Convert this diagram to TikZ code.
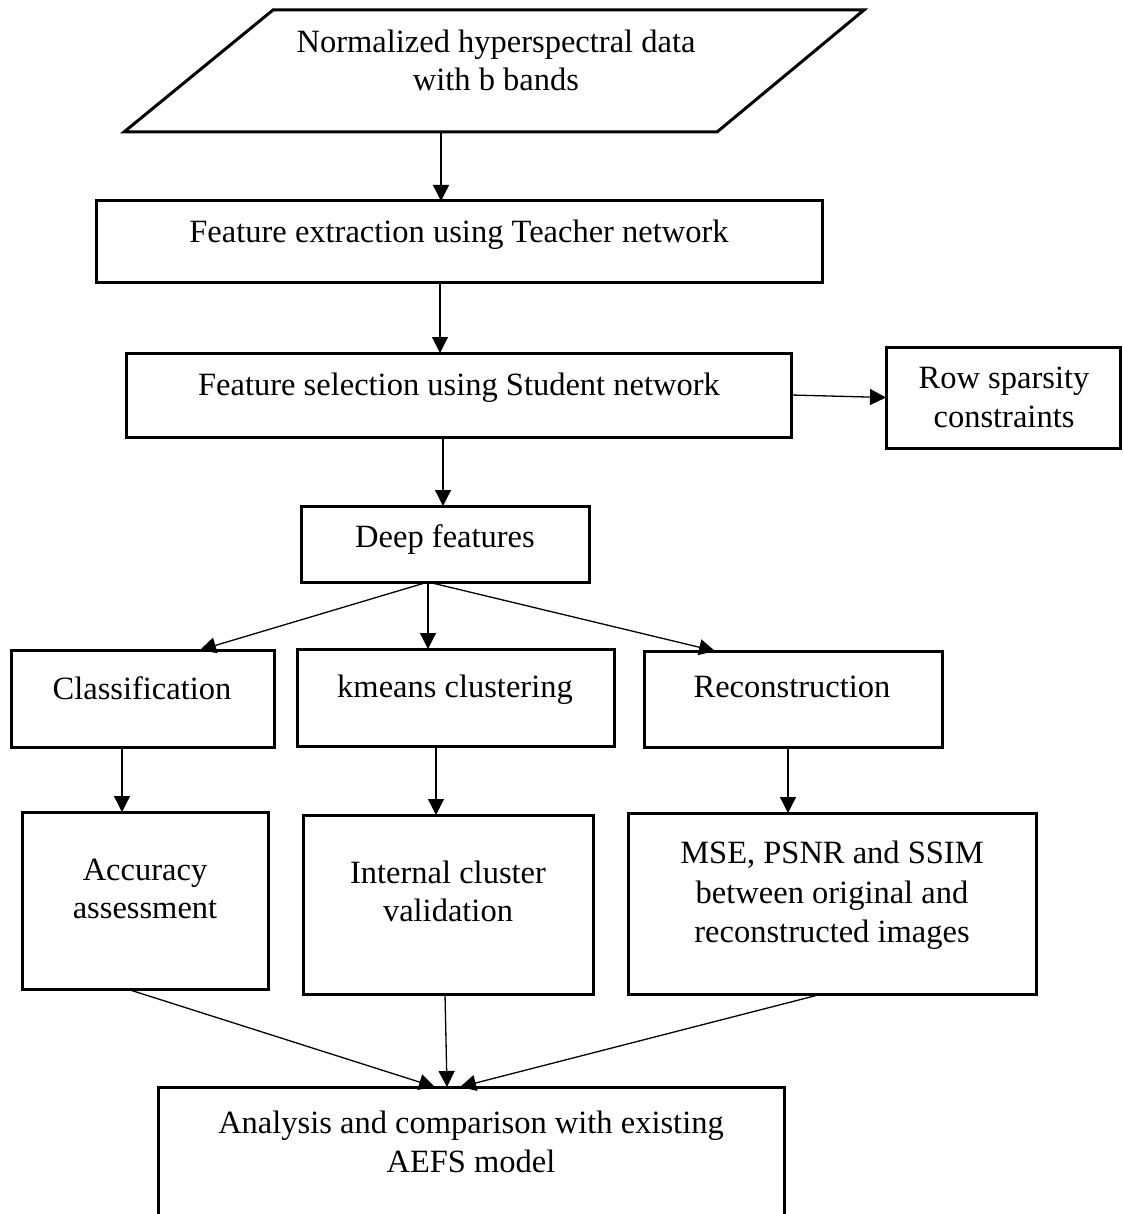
\documentclass[tikz,border=0pt]{standalone}
\usepackage{fontspec}
\setmainfont{Liberation Serif}
\usetikzlibrary{arrows.meta}
\begin{document}
\begin{tikzpicture}[x=1pt,y=-1pt,
  box/.style={draw,line width=3pt,inner sep=0pt,outer sep=0pt},
  txt/.style={anchor=base,inner sep=0pt,font=\fontsize{32.5}{39}\selectfont},
  arr/.style={line width=1.3pt,-{Triangle[length=16pt,width=16pt]}}]
\useasboundingbox (0,0) rectangle (1122,1214);

% input data (parallelogram)
\draw[line width=3pt,line join=miter] (273,10) -- (864,10) -- (717,132) -- (124,132) -- cycle;
\coordinate (parout) at (441,132);
\node[txt] (par1) at (496,53) {Normalized hyperspectral data};
\node[txt] (par2) at (496,91) {with b bands};

% process boxes
\node[box,minimum width=726pt,minimum height=82pt] (b1) at (459,242) {};
\node[txt] (b1t) at (459,243) {Feature extraction using Teacher network};

\node[box,minimum width=665pt,minimum height=84pt] (b2) at (458.5,395) {};
\node[txt] (b2t) at (459,395) {Feature selection using Student network};

\node[box,minimum width=234pt,minimum height=101pt] (rs) at (1003,397.5) {};
\node[txt] (rs1) at (1004,388) {Row sparsity};
\node[txt] (rs2) at (1004,427) {constraints};

\node[box,minimum width=288pt,minimum height=76pt] (deep) at (445,544) {};
\node[txt] (deept) at (445,547) {Deep features};

\node[box,minimum width=263pt,minimum height=97pt] (cls) at (142.5,698.5) {};
\node[txt] (clst) at (142,699) {Classification};

\node[box,minimum width=317pt,minimum height=97pt] (km) at (455.5,697.5) {};
\node[txt] (kmt) at (455,697) {kmeans clustering};

\node[box,minimum width=298pt,minimum height=96pt] (rec) at (793,699) {};
\node[txt] (rect) at (792,697) {Reconstruction};

\node[box,minimum width=246pt,minimum height=177pt] (acc) at (145,900.5) {};
\node[txt] (acc1) at (145,880) {Accuracy};
\node[txt] (acc2) at (145,918) {assessment};

\node[box,minimum width=290pt,minimum height=179pt] (int) at (448,904.5) {};
\node[txt] (int1) at (448,883) {Internal cluster};
\node[txt] (int2) at (448,921) {validation};

\node[box,minimum width=408pt,minimum height=181pt] (mse) at (832,903.5) {};
\node[txt] (mse1) at (832,863) {MSE, PSNR and SSIM};
\node[txt] (mse2) at (832,903) {between original and};
\node[txt] (mse3) at (832,942) {reconstructed images};

\node[box,minimum width=626pt,minimum height=150pt] (bot) at (471,1162) {};
\node[txt] (bot1) at (471,1133) {Analysis and comparison with existing};
\node[txt] (bot2) at (471,1172) {AEFS model};

% connectors
\draw[arr] (parout) -- (parout |- b1.north);
\draw[arr] ([xshift=-19pt]b1.south) -- ([xshift=-18.5pt]b2.north);
\draw[arr] (b2.east) -- (rs.west);
\draw[arr] ([xshift=-15.5pt]b2.south) -- ([xshift=-2pt]deep.north);
\coordinate (fan) at ([xshift=-17pt]deep.south);
\draw[arr] (fan) -- ([xshift=57.5pt]cls.north);
\draw[arr] (fan) -- ([xshift=-27.5pt]km.north);
\draw[arr] (fan) -- ([xshift=-78pt]rec.north);
\draw[arr] ([xshift=-20.5pt]cls.south) -- ([xshift=-23pt]acc.north);
\draw[arr] ([xshift=-19.5pt]km.south) -- ([xshift=-12pt]int.north);
\draw[arr] ([xshift=-5pt]rec.south) -- ([xshift=-44pt]mse.north);
\draw[arr] ([xshift=-18pt]acc.south) -- ([xshift=-36pt]bot.north);
\draw[arr] ([xshift=-3pt]int.south) -- ([xshift=-24pt]bot.north);
\draw[arr] ([xshift=-10pt]mse.south) -- ([xshift=-11pt]bot.north);
\end{tikzpicture}
\end{document}
